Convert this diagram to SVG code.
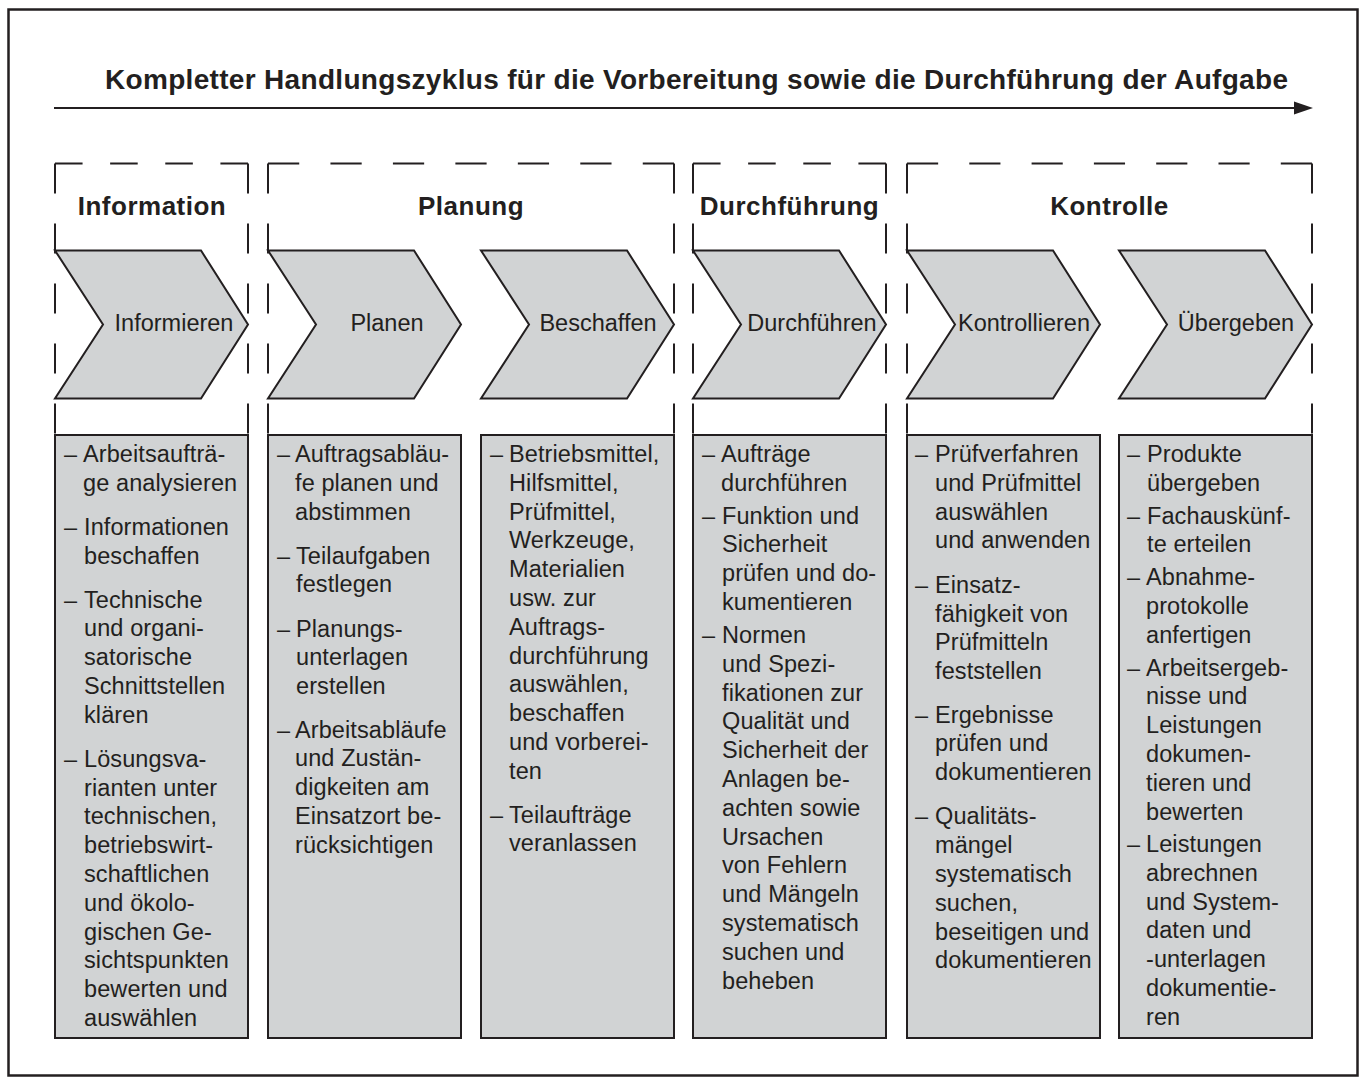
<svg xmlns="http://www.w3.org/2000/svg" width="1365" height="1084" viewBox="0 0 1365 1084">
<style>
.frame{fill:none;stroke:#231f20;stroke-width:2.5}
.title{font-family:"Liberation Sans",Arial,sans-serif;font-weight:bold;font-size:28px;fill:#231f20}
.head{font-family:"Liberation Sans",Arial,sans-serif;font-weight:bold;font-size:26px;fill:#231f20;text-anchor:middle;letter-spacing:0.5px}
.dash{fill:none;stroke:#231f20;stroke-width:2}
.chev{fill:#d1d3d4;stroke:#231f20;stroke-width:2;stroke-linejoin:miter}
.box{fill:#d1d3d4;stroke:#231f20;stroke-width:2}
.lbl{font-family:"Liberation Sans",Arial,sans-serif;font-size:23.5px;fill:#231f20;text-anchor:middle}
.t{font-family:"Liberation Sans",Arial,sans-serif;font-size:23.5px;fill:#231f20;letter-spacing:0.1px}
</style>
<defs>
<path id="chevron" d="M0,0 L146,0 L193,74 L146,148 L0,148 L48,74 Z"/>
</defs>
<rect class="frame" x="8.5" y="9.5" width="1349" height="1066"/>
<g id="title">
<text class="title" x="105" y="89" textLength="1183" lengthAdjust="spacing">Kompletter Handlungszyklus für die Vorbereitung sowie die Durchführung der Aufgabe</text>
</g>
<g id="connectors">
<line x1="54" y1="108" x2="1298" y2="108" stroke="#231f20" stroke-width="2"/>
<polygon points="1294,101.5 1313,108 1294,114.5" fill="#231f20"/>
</g>
<g id="phase-information">
<path class="dash" d="M55,163.5 H248" stroke-dasharray="27.57 27.57"/>
<path class="dash" d="M55,163.5 V436 M248,163.5 V436" stroke-dasharray="30 30"/>
<text class="head" x="152" y="215">Information</text>
</g>
<g id="phase-planung">
<path class="dash" d="M268,163.5 H674" stroke-dasharray="31.23 31.23"/>
<path class="dash" d="M268,163.5 V436 M674,163.5 V436" stroke-dasharray="30 30"/>
<text class="head" x="471" y="215">Planung</text>
</g>
<g id="phase-durchfuehrung">
<path class="dash" d="M693,163.5 H886" stroke-dasharray="27.57 27.57"/>
<path class="dash" d="M693,163.5 V436 M886,163.5 V436" stroke-dasharray="30 30"/>
<text class="head" x="789.5" y="215">Durchführung</text>
</g>
<g id="phase-kontrolle">
<path class="dash" d="M907,163.5 H1312" stroke-dasharray="31.15 31.15"/>
<path class="dash" d="M907,163.5 V436 M1312,163.5 V436" stroke-dasharray="30 30"/>
<text class="head" x="1109.5" y="215">Kontrolle</text>
</g>
<g id="step-informieren">
<use href="#chevron" class="chev" transform="translate(55,250.5)"/>
<text class="lbl" x="174" y="331">Informieren</text>
<rect class="box" x="55" y="435" width="193" height="603"/>
<text class="t"><tspan x="64" y="462">–</tspan><tspan x="64" y="535">–</tspan><tspan x="64" y="607.5">–</tspan><tspan x="64" y="766.7">–</tspan></text>
<text class="t">
<tspan x="83" y="462">Arbeitsaufträ-</tspan><tspan x="83" y="490.8">ge analysieren</tspan>
<tspan x="84" y="535">Informationen</tspan><tspan x="84" y="563.8">beschaffen</tspan>
<tspan x="84" y="607.5">Technische</tspan><tspan x="84" y="636.3">und organi-</tspan><tspan x="84" y="665.1">satorische</tspan><tspan x="84" y="693.9">Schnittstellen</tspan><tspan x="84" y="722.7">klären</tspan>
<tspan x="84" y="766.7">Lösungsva-</tspan><tspan x="84" y="795.5">rianten unter</tspan><tspan x="84" y="824.3">technischen,</tspan><tspan x="84" y="853.1">betriebswirt-</tspan><tspan x="84" y="881.9">schaftlichen</tspan><tspan x="84" y="910.7">und ökolo-</tspan><tspan x="84" y="939.5">gischen Ge-</tspan><tspan x="84" y="968.3">sichtspunkten</tspan><tspan x="84" y="997.1">bewerten und</tspan><tspan x="84" y="1025.9">auswählen</tspan>
</text>
</g>
<g id="step-planen">
<use href="#chevron" class="chev" transform="translate(268,250.5)"/>
<text class="lbl" x="387" y="331">Planen</text>
<rect class="box" x="268" y="435" width="193" height="603"/>
<text class="t"><tspan x="277" y="462">–</tspan><tspan x="277" y="563.6">–</tspan><tspan x="277" y="636.6">–</tspan><tspan x="277" y="737.5">–</tspan></text>
<text class="t">
<tspan x="295" y="462">Auftragsabläu-</tspan><tspan x="295" y="490.8">fe planen und</tspan><tspan x="295" y="519.6">abstimmen</tspan>
<tspan x="296" y="563.6">Teilaufgaben</tspan><tspan x="296" y="592.4">festlegen</tspan>
<tspan x="296" y="636.6">Planungs-</tspan><tspan x="296" y="665.4">unterlagen</tspan><tspan x="296" y="694.2">erstellen</tspan>
<tspan x="295" y="737.5">Arbeitsabläufe</tspan><tspan x="295" y="766.3">und Zustän-</tspan><tspan x="295" y="795.1">digkeiten am</tspan><tspan x="295" y="823.9">Einsatzort be-</tspan><tspan x="295" y="852.7">rücksichtigen</tspan>
</text>
</g>
<g id="step-beschaffen">
<use href="#chevron" class="chev" transform="translate(481,250.5)"/>
<text class="lbl" x="598" y="331">Beschaffen</text>
<rect class="box" x="481" y="435" width="193" height="603"/>
<text class="t"><tspan x="490" y="462">–</tspan><tspan x="490" y="822.5">–</tspan></text>
<text class="t">
<tspan x="509" y="462">Betriebsmittel,</tspan><tspan x="509" y="490.8">Hilfsmittel,</tspan><tspan x="509" y="519.6">Prüfmittel,</tspan><tspan x="509" y="548.4">Werkzeuge,</tspan><tspan x="509" y="577.2">Materialien</tspan><tspan x="509" y="606">usw. zur</tspan><tspan x="509" y="634.8">Auftrags-</tspan><tspan x="509" y="663.6">durchführung</tspan><tspan x="509" y="692.4">auswählen,</tspan><tspan x="509" y="721.2">beschaffen</tspan><tspan x="509" y="750">und vorberei-</tspan><tspan x="509" y="778.8">ten</tspan>
<tspan x="509" y="822.5">Teilaufträge</tspan><tspan x="509" y="851.3">veranlassen</tspan>
</text>
</g>
<g id="step-durchfuehren">
<use href="#chevron" class="chev" transform="translate(693,250.5)"/>
<text class="lbl" x="812" y="331">Durchführen</text>
<rect class="box" x="693" y="435" width="193" height="603"/>
<text class="t"><tspan x="702" y="462">–</tspan><tspan x="702" y="523.5">–</tspan><tspan x="702" y="643">–</tspan></text>
<text class="t">
<tspan x="721" y="462">Aufträge</tspan><tspan x="721" y="490.8">durchführen</tspan>
<tspan x="722" y="523.5">Funktion und</tspan><tspan x="722" y="552.3">Sicherheit</tspan><tspan x="722" y="581.1">prüfen und do-</tspan><tspan x="722" y="609.9">kumentieren</tspan>
<tspan x="722" y="643">Normen</tspan><tspan x="722" y="671.8">und Spezi-</tspan><tspan x="722" y="700.6">fikationen zur</tspan><tspan x="722" y="729.4">Qualität und</tspan><tspan x="722" y="758.2">Sicherheit der</tspan><tspan x="722" y="787">Anlagen be-</tspan><tspan x="722" y="815.8">achten sowie</tspan><tspan x="722" y="844.6">Ursachen</tspan><tspan x="722" y="873.4">von Fehlern</tspan><tspan x="722" y="902.2">und Mängeln</tspan><tspan x="722" y="931">systematisch</tspan><tspan x="722" y="959.8">suchen und</tspan><tspan x="722" y="988.6">beheben</tspan>
</text>
</g>
<g id="step-kontrollieren">
<use href="#chevron" class="chev" transform="translate(907,250.5)"/>
<text class="lbl" x="1024" y="331">Kontrollieren</text>
<rect class="box" x="907" y="435" width="193" height="603"/>
<text class="t"><tspan x="915" y="462">–</tspan><tspan x="915" y="592.7">–</tspan><tspan x="915" y="722.5">–</tspan><tspan x="915" y="824.3">–</tspan></text>
<text class="t">
<tspan x="935" y="462">Prüfverfahren</tspan><tspan x="935" y="490.8">und Prüfmittel</tspan><tspan x="935" y="519.6">auswählen</tspan><tspan x="935" y="548.4">und anwenden</tspan>
<tspan x="935" y="592.7">Einsatz-</tspan><tspan x="935" y="621.5">fähigkeit von</tspan><tspan x="935" y="650.3">Prüfmitteln</tspan><tspan x="935" y="679.1">feststellen</tspan>
<tspan x="935" y="722.5">Ergebnisse</tspan><tspan x="935" y="751.3">prüfen und</tspan><tspan x="935" y="780.1">dokumentieren</tspan>
<tspan x="935" y="824.3">Qualitäts-</tspan><tspan x="935" y="853.1">mängel</tspan><tspan x="935" y="881.9">systematisch</tspan><tspan x="935" y="910.7">suchen,</tspan><tspan x="935" y="939.5">beseitigen und</tspan><tspan x="935" y="968.3">dokumentieren</tspan>
</text>
</g>
<g id="step-uebergeben">
<use href="#chevron" class="chev" transform="translate(1119,250.5)"/>
<text class="lbl" x="1236" y="331">Übergeben</text>
<rect class="box" x="1119" y="435" width="193" height="603"/>
<text class="t"><tspan x="1127" y="462">–</tspan><tspan x="1127" y="523.5">–</tspan><tspan x="1127" y="585.3">–</tspan><tspan x="1127" y="675.5">–</tspan><tspan x="1127" y="852">–</tspan></text>
<text class="t">
<tspan x="1147" y="462">Produkte</tspan><tspan x="1147" y="490.8">übergeben</tspan>
<tspan x="1147" y="523.5">Fachauskünf-</tspan><tspan x="1147" y="552.3">te erteilen</tspan>
<tspan x="1146" y="585.3">Abnahme-</tspan><tspan x="1146" y="614.1">protokolle</tspan><tspan x="1146" y="642.9">anfertigen</tspan>
<tspan x="1146" y="675.5">Arbeitsergeb-</tspan><tspan x="1146" y="704.3">nisse und</tspan><tspan x="1146" y="733.1">Leistungen</tspan><tspan x="1146" y="761.9">dokumen-</tspan><tspan x="1146" y="790.7">tieren und</tspan><tspan x="1146" y="819.5">bewerten</tspan>
<tspan x="1146" y="852">Leistungen</tspan><tspan x="1146" y="880.8">abrechnen</tspan><tspan x="1146" y="909.6">und System-</tspan><tspan x="1146" y="938.4">daten und</tspan><tspan x="1146" y="967.2">-unterlagen</tspan><tspan x="1146" y="996">dokumentie-</tspan><tspan x="1146" y="1024.8">ren</tspan>
</text>
</g>
</svg>
